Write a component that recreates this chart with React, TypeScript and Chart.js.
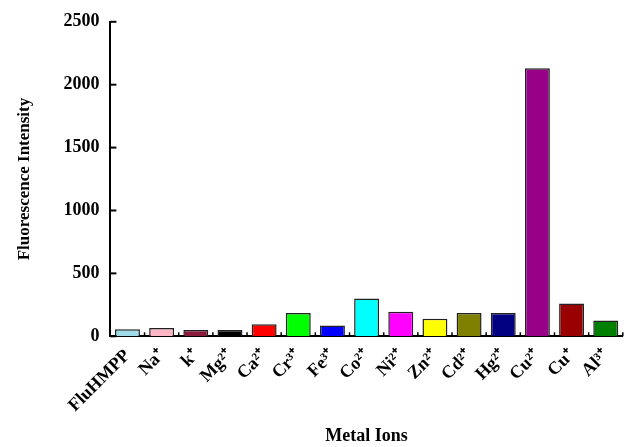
import React, { useEffect, useRef } from "react";
import { Chart, registerables } from "chart.js";

Chart.register(...registerables);

const categories = ["FluHMPP", "Na⁺", "k⁺", "Mg²⁺", "Ca²⁺", "Cr³⁺", "Fe³⁺", "Co²⁺", "Ni²⁺", "Zn²⁺", "Cd²⁺", "Hg²⁺", "Cu²⁺", "Cu⁺", "Al³⁺"];
const intensities = [55, 65, 50, 50, 95, 185, 85, 300, 195, 140, 185, 185, 2130, 260, 125];
const barColors = ["#9fdbe8", "#ffb7c5", "#8b1a3c", "#000000", "#ff0000", "#00ff00", "#0000ff", "#00ffff", "#ff00ff", "#ffff00", "#808000", "#000080", "#990088", "#990000", "#008000"];
const yTicks = [0, 500, 1000, 1500, 2000, 2500];

const FONT = "'Liberation Serif', 'Times New Roman', serif";

const inwardTicks = {
  id: "inwardTicks",
  afterDraw(chart: any) {
    const { ctx, scales } = chart;
    const x = scales.x;
    const y = scales.y;
    ctx.save();
    ctx.strokeStyle = "#000";
    ctx.lineWidth = 2;
    for (const v of yTicks) {
      const py = y.getPixelForValue(v);
      ctx.beginPath();
      ctx.moveTo(x.left, py);
      ctx.lineTo(x.left + 6, py);
      ctx.stroke();
    }
    ctx.lineWidth = 1.5;
    for (let i = 0; i < categories.length; i++) {
      const px = (x.getPixelForValue(i) + x.getPixelForValue(i + 1)) / 2;
      ctx.beginPath();
      ctx.moveTo(px, y.bottom);
      ctx.lineTo(px, y.bottom - 4);
      ctx.stroke();
    }
    ctx.restore();
  },
};

export default function App() {
  const ref = useRef<HTMLCanvasElement>(null);
  useEffect(() => {
    const chart = new Chart(ref.current!, {
      type: "bar",
      data: {
        labels: categories,
        datasets: [
          {
            data: intensities,
            backgroundColor: barColors,
            borderColor: "#222",
            borderWidth: 1.5,
            barPercentage: 0.73,
            categoryPercentage: 1,
          },
        ],
      },
      options: {
        animation: false,
        responsive: false,
        maintainAspectRatio: false,
        layout: { padding: { top: 15, right: 0, left: 10, bottom: 0 } },
        plugins: { legend: { display: false }, tooltip: { enabled: false } },
        scales: {
          x: {
            offset: true,
            grid: { display: false, drawTicks: false },
            border: { color: "#000", width: 2 },
            ticks: {
              color: "#000",
              maxRotation: 45,
              minRotation: 45,
              autoSkip: false,
              padding: 9,
              font: { family: FONT, size: 18, weight: "bold" },
            },
            title: {
              display: true,
              text: "Metal Ions",
              color: "#000",
              padding: { top: 0, bottom: 0 },
              font: { family: FONT, size: 18, weight: "bold" },
            },
          },
          y: {
            min: 0,
            max: 2500,
            grid: { display: false, drawTicks: false },
            border: { color: "#000", width: 2 },
            ticks: {
              stepSize: 500,
              color: "#000",
              padding: 11,
              callback: (v: any) => String(v),
              font: { family: FONT, size: 18, weight: "bold" },
            },
            title: {
              display: true,
              text: "Fluorescence Intensity",
              color: "#000",
              padding: { bottom: 18 },
              font: { family: FONT, size: 17, weight: "bold" },
            },
          },
        },
      },
      plugins: [inwardTicks],
    });
    return () => chart.destroy();
  }, []);
  return (
    <div style={{ position: "fixed", left: 0, top: 0, width: 630, height: 447, background: "#fff" }}>
      <canvas ref={ref} width={630} height={447} style={{ width: 630, height: 447 }} />
    </div>
  );
}
